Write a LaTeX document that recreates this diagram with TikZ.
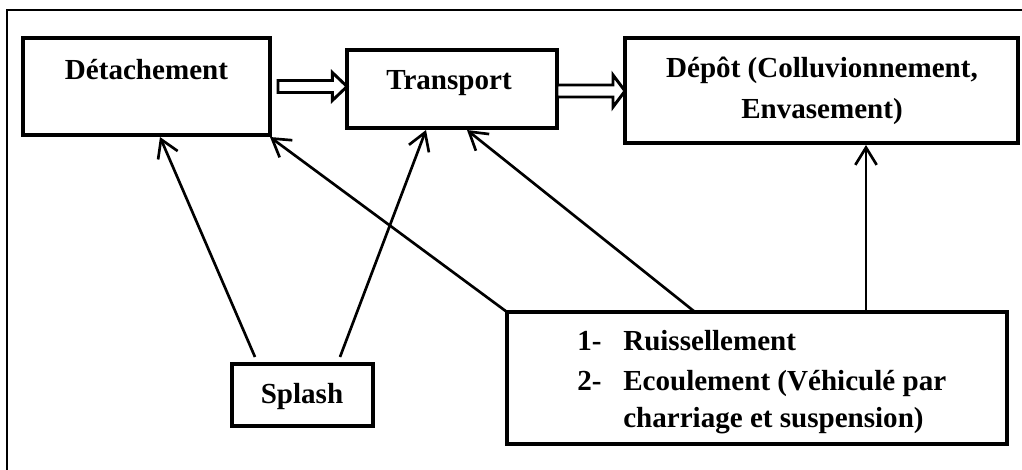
\documentclass[tikz,border=0pt]{standalone}
\usepackage{fontspec}
\setmainfont{Liberation Serif}
\usetikzlibrary{arrows.meta,calc,fit}
\begin{document}
\begin{tikzpicture}[x=0.75pt,y=-0.75pt,
  box/.style={draw,line width=2.6pt,inner sep=0pt,outer sep=0pt},
  txt/.style={inner sep=0pt,font=\fontsize{21.8}{29}\selectfont\bfseries},
  conn/.style={line width=2pt,-{Straight Barb[length=13pt,width=16pt,line width=2pt]}},
  blockarr/.style={draw,line width=2.2pt,fill=white,line join=miter}]
\useasboundingbox (0,0) rectangle (1022,469);
\clip (0,0) rectangle (1022,469);
\draw[line width=2.2pt] (7,480) -- (7,10) -- (1040,10);
% boxes
\node[box,fit={(23,38) (270,135)}] (det) {};
\node[box,fit={(347,50) (557,128)}] (trans) {};
\node[box,fit={(625,38) (1018,143)}] (dep) {};
\node[box,fit={(232,364) (373,426)}] (splash) {};
\node[box,fit={(507,312) (1007,444)}] (ruis) {};
% texts
\node[txt,anchor=base] (tdet) at (146.5,79) {Détachement};
\node[txt,anchor=base] (ttrans) at (449,89) {Transport};
\node[txt,anchor=base] (tdep1) at (822,77) {Dépôt (Colluvionnement,};
\node[txt,anchor=base] (tdep2) at (822,118) {Envasement)};
\node[txt,anchor=base] (tsplash) at (302,403) {Splash};
\node[txt,anchor=base west] (n1) at (577,350) {1-};
\node[txt,anchor=base west] (r1) at (623,350) {Ruissellement};
\node[txt,anchor=base west] (n2) at (577,390) {2-};
\node[txt,anchor=base west] (r2) at (623,390) {Ecoulement (Véhiculé par};
\node[txt,anchor=base west] (r3) at (623,427) {charriage et suspension)};
% block arrows
\draw[blockarr] let \p1=($(det.east)+(8,0)$), \p2=(trans.west) in
  (\x1,\y1+4.5pt) -- (\x2-11pt,\y1+4.5pt) -- (\x2-11pt,\y1+10.5pt) -- (\x2,\y1)
  -- (\x2-11pt,\y1-10.5pt) -- (\x2-11pt,\y1-4.5pt) -- (\x1,\y1-4.5pt) -- cycle;
\draw[blockarr] let \p1=($(trans.east)+(0,2)$), \p2=(dep.west) in
  (\x1,\y1+4.5pt) -- (\x2-9pt,\y1+4.5pt) -- (\x2-9pt,\y1+12pt) -- (\x2,\y1)
  -- (\x2-9pt,\y1-12pt) -- (\x2-9pt,\y1-4.5pt) -- (\x1,\y1-4.5pt) -- cycle;
% connectors
\draw[conn] ($(splash.north west)+(23,-7)$) -- ($(det.south west)+(137,2)$);
\draw[conn] ($(splash.north west)+(108,-7)$) -- ($(trans.south west)+(79,2)$);
\draw[conn] (ruis.north west) -- ($(det.south east)+(0,2)$);
\draw[conn] ($(ruis.north west)+(188,0)$) -- ($(trans.south west)+(120,2)$);
\draw[conn] ($(ruis.north west)+(359,0)$) -- ($(dep.south west)+(241,2)$);
\end{tikzpicture}
\end{document}
